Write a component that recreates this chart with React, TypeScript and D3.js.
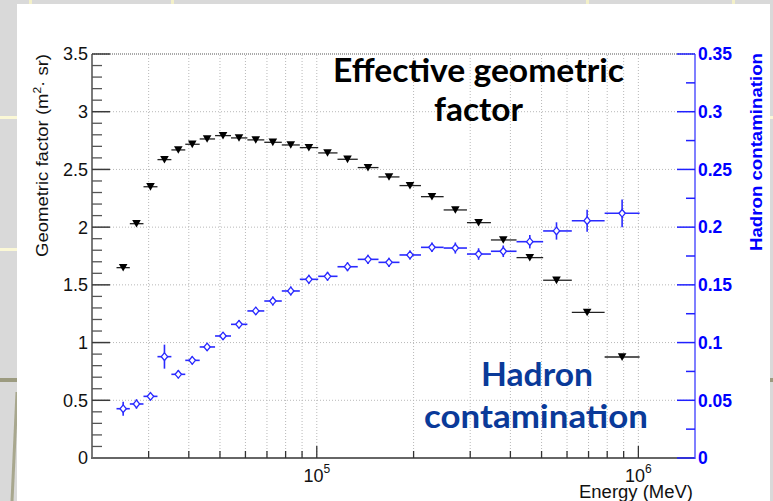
import React from "react";
import * as d3 from "d3";

// ---- data ----
const energyMeV = [25000, 27500, 30400, 33600, 37100, 41000, 45600, 51100, 57300, 64600, 73000, 83000, 94500, 108000, 124600, 144300, 167700, 194900, 228100, 269700, 318500, 380100, 459600, 556400, 692900, 890100];
const geomFactor = [1.649, 2.03, 2.35, 2.585, 2.669, 2.718, 2.764, 2.793, 2.773, 2.756, 2.735, 2.712, 2.689, 2.643, 2.588, 2.516, 2.435, 2.36, 2.264, 2.149, 2.039, 1.889, 1.736, 1.54, 1.262, 0.875];
const hadronContam = [0.0427, 0.0468, 0.0534, 0.0878, 0.0725, 0.0846, 0.0962, 0.1057, 0.1158, 0.1274, 0.136, 0.1447, 0.1548, 0.1574, 0.1657, 0.1721, 0.1695, 0.1759, 0.1825, 0.1819, 0.1767, 0.1791, 0.1874, 0.1967, 0.2056, 0.212];
const hadronErr = [0.0061, 0.0041, 0.0032, 0.0104, 0.0035, 0.0035, 0.0032, 0.0035, 0.0035, 0.0035, 0.0039, 0.0039, 0.0039, 0.0039, 0.0039, 0.004, 0.004, 0.0039, 0.0041, 0.0048, 0.005, 0.005, 0.0058, 0.0075, 0.0095, 0.012];
const leftTickValues = [0, 0.5, 1, 1.5, 2, 2.5, 3, 3.5];
const leftTickLabels = ["0", "0.5", "1", "1.5", "2", "2.5", "3", "3.5"];
const rightTickValues = [0, 0.05, 0.1, 0.15, 0.2, 0.25, 0.3, 0.35];
const rightTickLabels = ["0", "0.05", "0.1", "0.15", "0.2", "0.25", "0.3", "0.35"];
const xMajorTicks = [1e5, 1e6];
const xMajorExp = ["5", "6"];

const W = 773, H = 501;
const L = 92, R = 695, T = 54, B = 458;

export default function App() {
  const x = d3.scaleLog().domain([2e4, 1.5e6]).range([L, R]);
  const yL = d3.scaleLinear().domain([0, 3.5]).range([B, T]);
  const yR = d3.scaleLinear().domain([0, 0.35]).range([B, T]);

  // bin edges: geometric midpoints between centres
  const logs = energyMeV.map((e) => Math.log10(e));
  const edges: number[] = [];
  for (let i = 0; i <= logs.length; i++) {
    let v;
    if (i === 0) v = logs[0] - (logs[1] - logs[0]) / 2;
    else if (i === logs.length) v = logs[i - 1] + (logs[i - 1] - logs[i - 2]) / 2;
    else v = (logs[i - 1] + logs[i]) / 2;
    edges.push(Math.pow(10, v));
  }

  const xTicks = x.ticks().filter((t) => t > 2.01e4);
  const isMajor = (t: number) => Math.abs(Math.log10(t) - Math.round(Math.log10(t))) < 1e-6;
  const leftMinor = d3.range(0, 3.5001, 0.1).filter((v) => Math.abs(v * 2 - Math.round(v * 2)) > 1e-6);
  const rightMinor = d3.range(0.025, 0.35, 0.05);

  const font = "'Liberation Sans', Arial, sans-serif";
  const gridStyle = { stroke: "#b8b8b8", strokeWidth: 1, strokeDasharray: "1 2" };

  return (
    <svg width={W} height={H} style={{ position: "absolute", left: 0, top: 0 }} xmlns="http://www.w3.org/2000/svg">
      {/* slide background */}
      <rect x={0} y={0} width={W} height={H} fill="#d9d9d9" />
      <rect x={0} y={116} width={17} height={3} fill="#fbf8d6" />
      <rect x={0} y={248} width={17} height={3} fill="#fbf8d6" />
      <rect x={0} y={378} width={17} height={4} fill="#9c9b80" />
      <line x1={17} y1={392} x2={12} y2={501} stroke="#a8a78e" strokeWidth={3} />
      <rect x={29} y={0} width={3} height={4} fill="#f3f0c8" />
      <rect x={171} y={0} width={3} height={4} fill="#f3f0c8" />
      <rect x={586} y={0} width={3} height={4} fill="#f3f0c8" />
      <rect x={732} y={0} width={3} height={4} fill="#f3f0c8" />
      <rect x={770} y={116} width={3} height={3} fill="#fbf8d6" />
      <rect x={770} y={378} width={3} height={4} fill="#9c9b80" />
      <rect x={17} y={4} width={753} height={497} fill="#ffffff" />

      {/* grid */}
      {xTicks.map((t, i) => (
        <line key={"gx" + i} x1={x(t)} x2={x(t)} y1={B} y2={T} {...gridStyle} />
      ))}
      {leftTickValues.slice(1, -1).map((v, i) => (
        <line key={"gy" + i} x1={L} x2={R} y1={yL(v)} y2={yL(v)} {...gridStyle} />
      ))}
      <line x1={L} x2={R} y1={T} y2={T} stroke="#555" strokeWidth={1.2} strokeDasharray="1 1" />

      {/* left axis */}
      <line x1={L} x2={L} y1={T} y2={B + 1} stroke="#7a7a7a" strokeWidth={2} />
      {leftTickValues.map((v, i) => (
        <g key={"lt" + i}>
          <line x1={L} x2={L + 18} y1={yL(v)} y2={yL(v)} stroke="#3a3a3a" strokeWidth={1.5} />
          <text x={L - 4} y={yL(v)} dy="0.36em" textAnchor="end" fontFamily={font} fontSize={18} fill="#111">
            {leftTickLabels[i]}
          </text>
        </g>
      ))}
      {leftMinor.map((v, i) => (
        <line key={"lm" + i} x1={L} x2={L + 10} y1={yL(v)} y2={yL(v)} stroke="#555" strokeWidth={1.3} />
      ))}

      {/* bottom axis */}
      <line x1={L - 1} x2={R} y1={B} y2={B} stroke="#666" strokeWidth={2} />
      {xTicks.map((t, i) => (
        <line key={"xt" + i} x1={x(t)} x2={x(t)} y1={B} y2={B - (isMajor(t) ? 12 : 7)} stroke="#333" strokeWidth={1.3} />
      ))}
      {xMajorTicks.map((t, i) => (
        <text key={"xl" + i} x={x(t)} y={481.5} textAnchor="middle" fontFamily={font} fontSize={18} fill="#111">
          10
          <tspan dy={-9} fontSize={12}>{xMajorExp[i]}</tspan>
        </text>
      ))}
      <text x={693} y={497.5} textAnchor="end" fontFamily={font} fontSize={18} fill="#111" textLength={114} lengthAdjust="spacingAndGlyphs">
        Energy (MeV)
      </text>

      {/* right axis */}
      <line x1={R} x2={R} y1={T} y2={B + 1} stroke="#7f7fff" strokeWidth={2} />
      {rightTickValues.map((v, i) => (
        <g key={"rt" + i}>
          <line x1={R - 18} x2={R} y1={yR(v)} y2={yR(v)} stroke="#2020ff" strokeWidth={1.5} />
          <text x={R + 3} y={yR(v)} dy="0.36em" fontFamily={font} fontWeight="bold" fontSize={17.5} fill="#0000ff">
            {rightTickLabels[i]}
          </text>
        </g>
      ))}
      {rightMinor.map((v, i) => (
        <line key={"rm" + i} x1={R - 9} x2={R} y1={yR(v)} y2={yR(v)} stroke="#2020ff" strokeWidth={1.5} />
      ))}

      {/* axis titles */}
      <text transform="translate(48,155.5) rotate(-90)" textAnchor="middle" fontFamily={font} fontSize={17} fill="#111" textLength={203} lengthAdjust="spacingAndGlyphs">
        Geometric factor (m<tspan dy={-7} fontSize={11}>2</tspan><tspan dy={7}>· sr)</tspan>
      </text>
      <text transform="translate(762,152) rotate(-90)" textAnchor="middle" fontFamily={font} fontWeight="bold" fontSize={17} fill="#0000ff" textLength={198} lengthAdjust="spacingAndGlyphs">
        Hadron contamination
      </text>

      {/* hadron contamination (blue) */}
      {energyMeV.map((e, i) => {
        const cx = x(e), cy = yR(hadronContam[i]);
        return (
          <g key={"h" + i}>
            <line x1={x(edges[i])} x2={x(edges[i + 1])} y1={cy} y2={cy} stroke="#2a2aff" strokeWidth={1.6} />
            <line x1={cx} x2={cx} y1={yR(hadronContam[i] - hadronErr[i])} y2={yR(hadronContam[i] + hadronErr[i])} stroke="#2a2aff" strokeWidth={1.6} />
            <path d={`M${cx},${cy - 3.8}L${cx + 3.2},${cy}L${cx},${cy + 3.8}L${cx - 3.2},${cy}Z`} fill="#ffffff" stroke="#2a2aff" strokeWidth={1.3} />
          </g>
        );
      })}

      {/* geometric factor (black) */}
      {energyMeV.map((e, i) => {
        const cx = x(e), cy = yL(geomFactor[i]);
        return (
          <g key={"g" + i}>
            <line x1={x(edges[i])} x2={x(edges[i + 1])} y1={cy} y2={cy} stroke="#222" strokeWidth={1.3} />
            <path d={`M${cx - 4.3},${cy - 3.7}L${cx + 4.3},${cy - 3.7}L${cx},${cy + 3.9}Z`} fill="#000" />
          </g>
        );
      })}

      {/* annotations */}
      <text x={333} y={81.5} fontFamily="Lato, 'Open Sans', sans-serif" fontWeight="bold" fontSize={32} fill="#000" textLength={291} lengthAdjust="spacingAndGlyphs">
        Effective geometric
      </text>
      <text x={434} y={121} fontFamily="Lato, 'Open Sans', sans-serif" fontWeight="bold" fontSize={32} fill="#000" textLength={89} lengthAdjust="spacingAndGlyphs">
        factor
      </text>
      <text x={481} y={386} fontFamily="Lato, 'Open Sans', sans-serif" fontWeight="bold" fontSize={32} fill="#0a3a99" textLength={112} lengthAdjust="spacingAndGlyphs">
        Hadron
      </text>
      <text x={424} y={427.5} fontFamily="Lato, 'Open Sans', sans-serif" fontWeight="bold" fontSize={32} fill="#0a3a99" textLength={224} lengthAdjust="spacingAndGlyphs">
        contamination
      </text>
    </svg>
  );
}
